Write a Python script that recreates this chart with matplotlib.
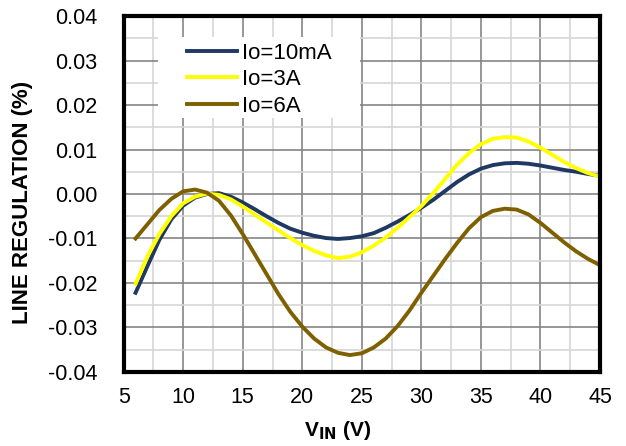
import matplotlib
matplotlib.use("Agg")
import matplotlib.pyplot as plt
from matplotlib.patches import Rectangle
from matplotlib.ticker import MultipleLocator

plt.rcParams['font.family'] = ['Liberation Sans', 'DejaVu Sans']

# input voltage (V)
vin = [6, 7, 8, 9, 10, 11, 12, 13, 14, 15, 16, 17, 18, 19, 20, 21, 22, 23, 24, 25,
       26, 27, 28, 29, 30, 31, 32, 33, 34, 35, 36, 37, 38, 39, 40, 41, 42, 43, 44, 45]

# line regulation (%)
reg_10ma = [-0.0222, -0.0162, -0.0103, -0.0057, -0.0026, -0.0008, 0.0000, 0.0002, -0.0006, -0.0019,
            -0.0034, -0.0050, -0.0065, -0.0078, -0.0087, -0.0094, -0.0099, -0.0101, -0.0099, -0.0095,
            -0.0088, -0.0076, -0.0062, -0.0047, -0.0031, -0.0013, 0.0007, 0.0027, 0.0044, 0.0057,
            0.0065, 0.0069, 0.0070, 0.0068, 0.0064, 0.0059, 0.0054, 0.0050, 0.0045, 0.0041]
reg_3a = [-0.0202, -0.0140, -0.0090, -0.0050, -0.0021, -0.0006, 0.0001, -0.0002, -0.0012, -0.0028,
          -0.0046, -0.0064, -0.0082, -0.0099, -0.0115, -0.0128, -0.0138, -0.0144, -0.0141, -0.0131,
          -0.0116, -0.0098, -0.0076, -0.0052, -0.0027, 0.0002, 0.0034, 0.0066, 0.0092, 0.0112,
          0.0124, 0.0128, 0.0127, 0.0118, 0.0104, 0.0088, 0.0072, 0.0058, 0.0047, 0.0039]
reg_6a = [-0.0100, -0.0068, -0.0036, -0.0011, 0.0006, 0.0010, 0.0003, -0.0015, -0.0048, -0.0090,
          -0.0135, -0.0180, -0.0225, -0.0265, -0.0298, -0.0325, -0.0345, -0.0357, -0.0362, -0.0358,
          -0.0345, -0.0325, -0.0297, -0.0262, -0.0222, -0.0184, -0.0146, -0.0110, -0.0077, -0.0052,
          -0.0038, -0.0033, -0.0035, -0.0046, -0.0065, -0.0087, -0.0109, -0.0129, -0.0146, -0.0160]

fig = plt.figure(figsize=(6.26, 4.46), dpi=100)
ax = fig.add_axes([0.1975, 0.166, 0.761, 0.798])

ax.plot(vin, reg_10ma, color='#1F3864', lw=2.8, label='Io=10mA')
ax.plot(vin, reg_3a, color='#FFFF00', lw=2.8, label='Io=3A')
ax.plot(vin, reg_6a, color='#7F6000', lw=2.8, label='Io=6A')

ax.set_xlim(5, 45)
ax.set_ylim(-0.04, 0.04)
ax.xaxis.set_major_locator(MultipleLocator(5))
ax.xaxis.set_minor_locator(MultipleLocator(2.5))
ax.yaxis.set_major_locator(MultipleLocator(0.01))
ax.yaxis.set_minor_locator(MultipleLocator(0.005))
ax.yaxis.set_major_formatter(lambda v, p: f"{v:.2f}".replace("-0.00", "0.00"))

ax.grid(which='major', color='#858585', lw=1.2)
ax.grid(which='minor', color='#d6d6d6', lw=1.2)
ax.set_axisbelow(True)
ax.tick_params(which='both', length=0, labelsize=15.5)
ax.tick_params(axis='y', pad=19)
ax.tick_params(axis='x', pad=11)

for s in ax.spines.values():
    s.set_linewidth(3)
    s.set_color('black')

ax.set_xlabel(r'V$_{\mathbf{IN}}$ (V)', fontsize=15, fontweight='bold')
ax.set_ylabel('LINE REGULATION (%)', fontsize=16, fontweight='bold')
ax.xaxis.set_label_coords(0.45, -0.132)
ax.yaxis.set_label_coords(-0.19, 0.476)

# white area behind the legend
ax.add_patch(Rectangle((0.072, 0.713), 0.424, 0.228, transform=ax.transAxes,
                       facecolor='white', edgecolor='none', zorder=1))

leg = ax.legend(loc='upper left', bbox_to_anchor=(0.124, 0.938), borderaxespad=0,
                fontsize=16, frameon=False, handlelength=2.25,
                handletextpad=0.22, labelspacing=0.25, borderpad=0.2)

fig.savefig('out.png', dpi=100)
